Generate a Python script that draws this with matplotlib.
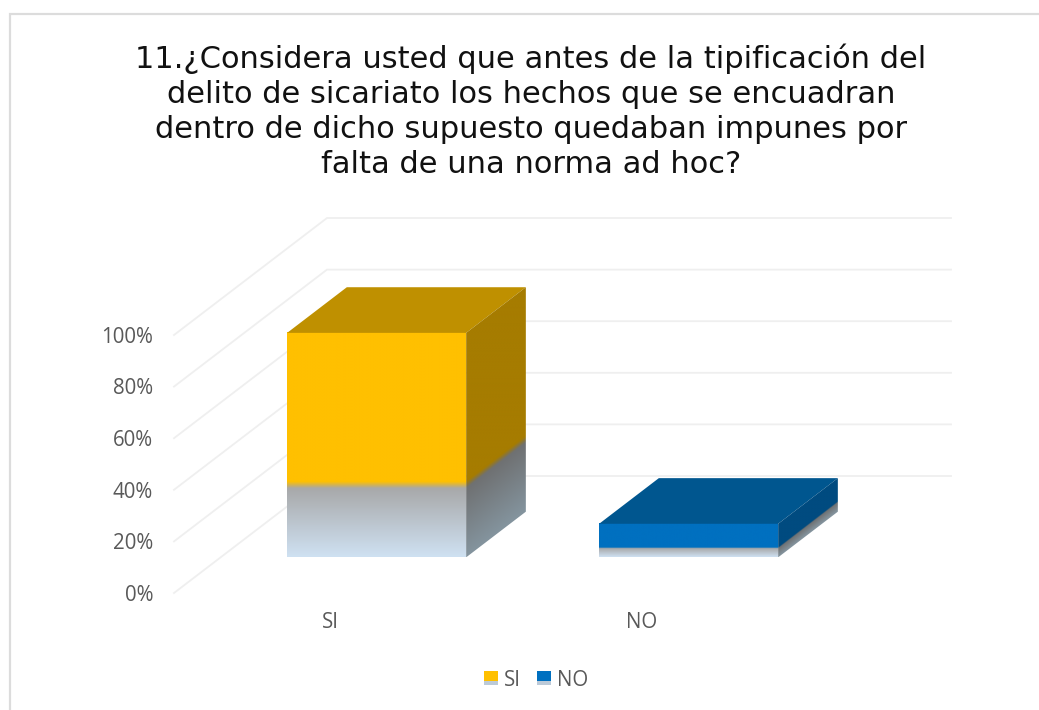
import numpy as np
import matplotlib
matplotlib.use("Agg")
import matplotlib.pyplot as plt
from matplotlib.colors import to_rgb
from matplotlib.legend_handler import HandlerBase
from matplotlib.patches import Patch, Polygon, Rectangle

title = ("11.¿Considera usted que antes de la tipificación del\n"
         "delito de sicariato los hechos que se encuadran\n"
         "dentro de dicho supuesto quedaban impunes por\n"
         "falta de una norma ad hoc?")
categories = ["SI", "NO"]
values = [87, 13]
ticks = [0, 20, 40, 60, 80, 100]
tick_labels = ["0%", "20%", "40%", "60%", "80%", "100%"]
faces = ["#ffc000", "#0070c0"]
tops = ["#bf9000", "#00568f"]
sides = ["#a67c00", "#004b80"]
reflect = [0.32, 0.27]

W, H = 1039, 710
px_x = 312.0   # pixels per category
px_y = 2.58    # pixels per percent
x0, y0 = 330, 593   # where category 0 / value 0 sit on the front plane

# depth: oblique shift between front plane (d=0) and back wall (d=1)
dx = 153 / px_x
dy = 117 / px_y
d1, d2 = 0.305, 0.695
bar_w = 179 / px_x


def proj(x, v, d):
    return x + d * dx, v + d * dy


fig = plt.figure(figsize=(W / 100, H / 100), dpi=100)
ax = fig.add_axes([0, 0, 1, 1])
ax.set_xlim(-x0 / px_x, (W - x0) / px_x)
ax.set_ylim(-(H - y0) / px_y, y0 / px_y)
ax.axis("off")

# chart frame
ax.plot([10 / W, 10 / W, 1], [0, 1 - 14 / H, 1 - 14 / H], transform=ax.transAxes,
        color="#dcdcdc", lw=1.6, solid_joinstyle="miter")

# grid on the side wall and back wall
for t, lab in zip(ticks, tick_labels):
    pts = [proj(-0.5, t, 0), proj(-0.5, t, 1), proj(1.5, t, 1)]
    ax.plot([p[0] for p in pts], [p[1] for p in pts], color="#efefef", lw=1.3, zorder=1)
    ax.text(proj(-0.5, t, 0)[0] - 21 / px_x, t - 0.9, lab, ha="right", va="center",
            fontsize=14.8, family="Open Sans", color="#595959")


def shade(u, v, col, lo_a, lo_b, f):
    # u across the face, v up the face (both 0..1)
    col = np.array(to_rgb(col))
    lo_a = np.array(to_rgb(lo_a))
    lo_b = np.array(to_rgb(lo_b))
    s = np.clip(v / f, 0, 1)[..., None]
    low = lo_a * (1 - s) + lo_b * s
    m = np.clip((v - f) / 0.03 + 0.5, 0, 1)[..., None]
    return low * (1 - m) + col * m


for i, (cat, val) in enumerate(zip(categories, values)):
    l, r = i - bar_w / 2, i + bar_w / 2
    f = reflect[i]

    # front face
    v = np.linspace(1, 0, 300)[:, None] * np.ones((300, 2))
    u = np.zeros_like(v)
    img = shade(u, v, faces[i], "#cfe1f2", "#a6a6a6", f)
    x_a, y_a = proj(l, 0, d1)
    x_b, y_b = proj(r, val, d1)
    ax.imshow(img, extent=[x_a, x_b, y_a, y_b], aspect="auto", zorder=3, interpolation="bilinear")

    # top face
    ax.add_patch(Polygon([proj(l, val, d1), proj(r, val, d1), proj(r, val, d2), proj(l, val, d2)],
                         closed=True, facecolor=tops[i], edgecolor="none", zorder=3))

    # side face, v runs along the sheared height
    x_a, y_a = proj(r, 0, d1)
    x_b, y_top = proj(r, val, d2)
    shift = (d2 - d1) * dy
    uu, yy = np.meshgrid(np.linspace(0, 1, 200), np.linspace(y_top, y_a, 500))
    v = (yy - y_a - uu * shift) / val
    img = shade(uu, v, sides[i], "#84949e", "#6e6f70", f)
    im = ax.imshow(img, extent=[x_a, x_b, y_a, y_top], aspect="auto", zorder=3, interpolation="bilinear")
    side = Polygon([proj(r, 0, d1), proj(r, 0, d2), proj(r, val, d2), proj(r, val, d1)],
                   closed=True, facecolor="none", edgecolor="none", transform=ax.transData)
    ax.add_patch(side)
    im.set_clip_path(side)

    ax.text(i, -11.5, cat, ha="center", va="center", fontsize=14.8, family="Open Sans", color="#595959")

# imshow resets limits
ax.set_xlim(-x0 / px_x, (W - x0) / px_x)
ax.set_ylim(-(H - y0) / px_y, y0 / px_y)

fig.text(531 / W, 1 - 111 / H, title, ha="center", va="center", fontsize=22,
         family="DejaVu Sans", color="#111111", linespacing=1.26)


class Swatch(HandlerBase):
    # legend key with the pale band along its bottom, like the bars
    def create_artists(self, legend, orig, xd, yd, w, h, fontsize, trans):
        low = Rectangle((-xd, -yd), w, h * 0.28, facecolor="#bccad8", edgecolor="none", transform=trans)
        up = Rectangle((-xd, -yd + h * 0.28), w, h * 0.72, facecolor=orig.get_facecolor(),
                       edgecolor="none", transform=trans)
        return [low, up]


handles = [Patch(facecolor=c) for c in faces]
fig.legend(handles, categories, loc="center", bbox_to_anchor=(536 / W, 1 - 680 / H), ncol=2,
           frameon=False, prop={"family": "Open Sans", "size": 14.8}, labelcolor="#595959",
           handlelength=0.68, handleheight=0.68, handletextpad=0.3, columnspacing=0.75,
           handler_map={Patch: Swatch()})

fig.savefig("out.png", dpi=100)
